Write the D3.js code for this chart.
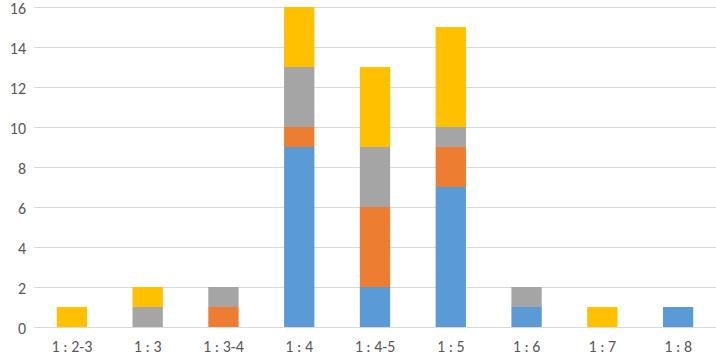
<!DOCTYPE html>
<html><head><meta charset="utf-8">
<script src="https://cdn.jsdelivr.net/npm/d3@7"></script>
<style>body{margin:0;background:#fff;}svg{display:block;}</style>
</head><body>
<svg id="c" width="716" height="358"></svg>
<script>
const categories = ["1 : 2-3","1 : 3","1 : 3-4","1 : 4","1 : 4-5","1 : 5","1 : 6","1 : 7","1 : 8"];
const seriesBlue   = [0,0,0,9,2,7,1,0,1];
const seriesOrange = [0,0,1,1,4,2,0,0,0];
const seriesGray   = [0,1,1,3,3,1,1,0,0];
const seriesYellow = [1,1,0,3,4,5,0,1,0];
const yTicks = [0,2,4,6,8,10,12,14,16];
const seriesNames = ["blue","orange","gray","yellow"];
const colors = ["#5b9bd5","#ed7d31","#a5a5a5","#ffc000"];

const rows = categories.map((c,i)=>({cat:c, blue:seriesBlue[i], orange:seriesOrange[i], gray:seriesGray[i], yellow:seriesYellow[i]}));
const stack = d3.stack().keys(seriesNames)(rows);

const svg = d3.select("#c");
const x = d3.scaleBand().domain(categories).range([34,716]).paddingInner(0.6).paddingOuter(0.3);
const y = d3.scaleLinear().domain([0,16]).range([327,7]);
const font = "Calibri, Carlito, Lato, 'Liberation Sans', sans-serif";

svg.append("g").selectAll("line").data(yTicks).join("line")
  .attr("x1",34).attr("x2",716)
  .attr("y1",d=>Math.round(y(d))+0.5).attr("y2",d=>Math.round(y(d))+0.5)
  .attr("stroke","#d9d9d9").attr("stroke-width",1);

svg.append("g").selectAll("g").data(stack).join("g")
  .attr("fill",(d,i)=>colors[i])
  .selectAll("rect").data(d=>d).join("rect")
  .attr("x",d=>x(d.data.cat)).attr("width",x.bandwidth())
  .attr("y",d=>y(d[1])).attr("height",d=>y(d[0])-y(d[1]));

const yAxis = d3.axisLeft(y).tickValues(yTicks).tickSize(0).tickPadding(0);
const ga = svg.append("g").attr("transform","translate(26,1)").call(yAxis);
ga.select(".domain").remove();
ga.selectAll("text").attr("font-family",font).attr("font-size","16px").attr("fill","#595959");

const xAxis = d3.axisBottom(x).tickSize(0).tickPadding(0);
const gx = svg.append("g").attr("transform","translate(0,341)").call(xAxis);
gx.select(".domain").remove();
gx.selectAll("text").attr("font-family",font).attr("font-size","16px").attr("fill","#595959");
</script>
</body></html>
